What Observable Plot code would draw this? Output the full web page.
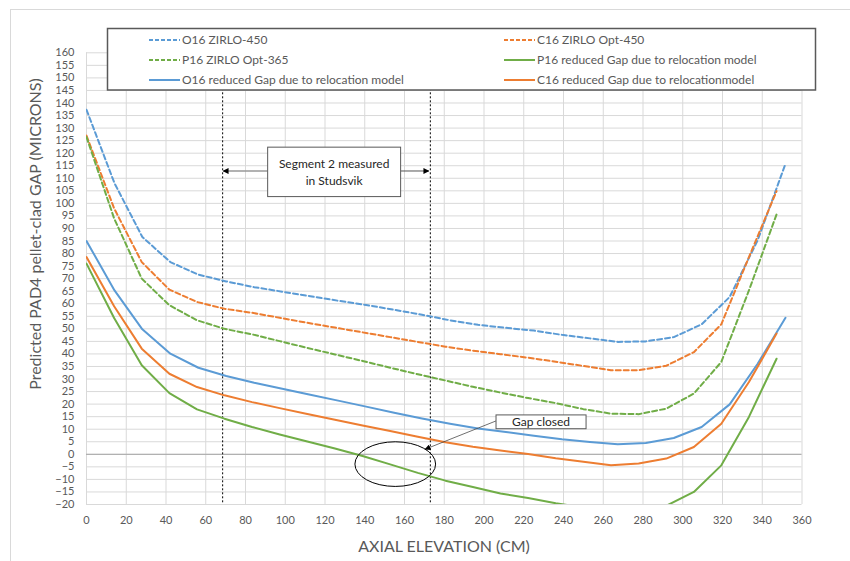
<!DOCTYPE html>
<html>
<head>
<meta charset="utf-8">
<script src="https://cdn.jsdelivr.net/npm/d3@7"></script>
<script src="https://cdn.jsdelivr.net/npm/@observablehq/plot@0.6"></script>
<style>
  html, body { margin: 0; padding: 0; background: #fff; }
  svg { display: block; }
</style>
</head>
<body>
<script>
// ---------- data ----------
const xTicks = [0, 20, 40, 60, 80, 100, 120, 140, 160, 180, 200, 220, 240, 260, 280, 300, 320, 340, 360];
const yTicks = [-20, -15, -10, -5, 0, 5, 10, 15, 20, 25, 30, 35, 40, 45, 50, 55, 60, 65, 70, 75, 80, 85, 90, 95, 100, 105, 110, 115, 120, 125, 130, 135, 140, 145, 150, 155, 160];

// axial positions (cm)
const o16Elev = [0, 14.1, 28.1, 42.2, 56.3, 70.3, 84.4, 98.5, 112.6, 126.6, 140.7, 154.8, 168.8, 182.9, 197.0, 211.0, 225.1, 239.2, 253.3, 267.3, 281.4, 295.5, 309.5, 323.6, 337.7, 351.7];
const cpElev  = [0, 13.9, 27.8, 41.7, 55.6, 69.4, 83.3, 97.2, 111.1, 125.0, 138.9, 152.8, 166.7, 180.6, 194.4, 208.3, 222.2, 236.1, 250.0, 263.9, 277.8, 291.7, 305.6, 319.4, 333.3, 347.2];

// gap values (microns)
const o16Zirlo450  = [137.3, 108, 86.6, 76.6, 71.6, 68.9, 66.6, 64.8, 63.0, 61.2, 59.5, 57.6, 55.6, 53.4, 51.6, 50.4, 49.3, 47.6, 46.2, 44.8, 45.0, 46.7, 51.8, 62.7, 85.3, 115.8];
const c16Opt450    = [127.0, 98, 76.6, 65.6, 60.7, 58.0, 56.4, 54.4, 52.4, 50.5, 48.6, 46.7, 44.8, 42.9, 41.3, 39.9, 38.5, 36.9, 35.2, 33.5, 33.5, 35.3, 40.7, 51.8, 78.6, 104.9];
const p16Opt365    = [126.4, 94, 70.0, 59.4, 53.4, 50.0, 47.8, 45.1, 42.4, 39.8, 37.2, 34.5, 31.9, 29.4, 26.9, 24.6, 22.4, 20.4, 18.0, 16.2, 16.0, 18.2, 24.2, 36.8, 65.3, 95.6];
const p16Reduced   = [76.0, 54.3, 35.5, 24.4, 17.9, 14.2, 10.9, 7.9, 5.1, 2.3, -0.7, -4.0, -7.4, -10.5, -13.0, -15.6, -17.4, -19.5, -21.2, -22.5, -22.0, -20.5, -15.0, -4.4, 14.9, 38.1];
const o16Reduced   = [85.0, 65.3, 49.8, 40.1, 34.5, 31.2, 28.5, 26.1, 23.7, 21.4, 19.0, 16.6, 14.3, 12.2, 10.3, 8.9, 7.4, 6.0, 4.9, 4.0, 4.5, 6.5, 10.9, 19.9, 36.1, 54.4];
const c16Reduced   = [78.6, 59.0, 42.1, 32.1, 26.8, 23.5, 20.8, 18.4, 16.1, 13.8, 11.5, 9.3, 7.0, 4.8, 3.0, 1.5, 0.1, -1.6, -3.0, -4.4, -3.7, -1.7, 2.9, 12.2, 28.8, 48.1];

const seriesNames = [
  "O16 ZIRLO-450",
  "C16 ZIRLO Opt-450",
  "P16 ZIRLO Opt-365",
  "P16 reduced Gap due to relocation model",
  "O16 reduced Gap due to relocation model",
  "C16 reduced Gap due to relocationmodel"
];
const seriesColors = ["#5B9BD5", "#ED7D31", "#70AD47", "#70AD47", "#5B9BD5", "#ED7D31"];
const seriesDashed = [true, true, true, false, false, false];
const seriesValues = [o16Zirlo450, c16Opt450, p16Opt365, p16Reduced, o16Reduced, c16Reduced];
const seriesElev   = [o16Elev, cpElev, cpElev, cpElev, o16Elev, cpElev];

// annotations (data units)
const segmentLines = [68.5, 173];
const segmentBox = {x1: 91.4, x2: 158.3, y1: 122.2, y2: 102.5, arrowY: 112.7, text: ["Segment 2 measured", "in Studsvik"]};
const gapBox = {x1: 206.3, x2: 251.6, y1: 15.5, y2: 10.0, text: "Gap closed", fromX: 206.3, fromY: 13.1, toX: 170.6, toY: 1.8};
const gapEllipse = {cx: 155.6, cy: -4.1, rx: 20.3, ry: 8.9};

// ---------- build rows ----------
const rows = [];
seriesNames.forEach((name, k) => {
  seriesValues[k].forEach((v, i) => rows.push({series: name, k, x: seriesElev[k][i], y: v}));
});

const lineMarks = seriesNames.map((name, k) =>
  Plot.line(rows.filter(d => d.k === k), {
    x: "x", y: "y",
    stroke: seriesColors[k],
    strokeWidth: 2,
    strokeDasharray: seriesDashed[k] ? "5,3" : null,
    clip: true
  })
);

const chart = Plot.plot({
  width: 850,
  height: 561,
  marginLeft: 86,
  marginRight: 48.5,
  marginTop: 52.3,
  marginBottom: 57,
  x: {domain: [0, 360]},
  y: {domain: [-20, 160]},
  style: {fontFamily: "Lato, 'Open Sans', sans-serif", fontSize: "11px", color: "#595959", background: "#fff"},
  marks: [
    Plot.gridX(xTicks, {stroke: "#d9d9d9", strokeOpacity: 1, strokeWidth: 1}),
    Plot.gridY(yTicks, {stroke: "#d9d9d9", strokeOpacity: 1, strokeWidth: 1}),
    Plot.ruleY([0], {stroke: "#a6a6a6", strokeWidth: 1}),
    Plot.axisX(xTicks, {tickSize: 0, tickPadding: 12, label: null, fill: "#595959", fontSize: 11}),
    Plot.axisY(yTicks, {tickSize: 0, tickPadding: 12, label: null, fill: "#595959", fontSize: 11}),
    Plot.ruleX(segmentLines, {stroke: "#000", strokeWidth: 1, strokeDasharray: "2,2"}),
    ...lineMarks
  ]
});

document.body.appendChild(chart);

const sx = chart.scale("x"), sy = chart.scale("y");
const X = v => sx.apply(v), Y = v => sy.apply(v);
const svg = d3.select(chart);
const font = "Lato, 'Open Sans', sans-serif";

// arrow marker
const defs = svg.append("defs");
defs.append("marker").attr("id", "tri").attr("viewBox", "0 0 10 10")
  .attr("refX", 9).attr("refY", 5).attr("markerWidth", 6).attr("markerHeight", 6)
  .attr("markerUnits", "userSpaceOnUse").attr("orient", "auto")
  .append("path").attr("d", "M0,0 L10,5 L0,10 z").attr("fill", "#000");

// Segment annotation
const sb = segmentBox;
svg.append("line").attr("x1", X(sb.x1)).attr("x2", X(segmentLines[0]) + 1)
  .attr("y1", Y(sb.arrowY)).attr("y2", Y(sb.arrowY))
  .attr("stroke", "#999").attr("stroke-width", 1.5).attr("marker-end", "url(#tri)");
svg.append("line").attr("x1", X(sb.x2)).attr("x2", X(segmentLines[1]) - 1)
  .attr("y1", Y(sb.arrowY)).attr("y2", Y(sb.arrowY))
  .attr("stroke", "#555").attr("stroke-width", 1).attr("marker-end", "url(#tri)");
svg.append("rect").attr("x", X(sb.x1)).attr("y", Y(sb.y1))
  .attr("width", X(sb.x2) - X(sb.x1)).attr("height", Y(sb.y2) - Y(sb.y1))
  .attr("fill", "#fff").attr("stroke", "#595959").attr("stroke-width", 1);
const sbcx = (X(sb.x1) + X(sb.x2)) / 2, sbcy = (Y(sb.y1) + Y(sb.y2)) / 2;
sb.text.forEach((t, i) => {
  svg.append("text").attr("x", sbcx).attr("y", sbcy + (i === 0 ? -8 : 9)).attr("dy", "0.35em")
    .attr("text-anchor", "middle").attr("font-family", font).attr("font-size", 12)
    .attr("fill", "#262626").text(t);
});

// Gap closed annotation
const gb = gapBox;
svg.append("line").attr("x1", X(gb.fromX)).attr("y1", Y(gb.fromY))
  .attr("x2", X(gb.toX)).attr("y2", Y(gb.toY))
  .attr("stroke", "#404040").attr("stroke-width", 0.75).attr("marker-end", "url(#tri)");
svg.append("rect").attr("x", X(gb.x1)).attr("y", Y(gb.y1))
  .attr("width", X(gb.x2) - X(gb.x1)).attr("height", Y(gb.y2) - Y(gb.y1))
  .attr("fill", "#fff").attr("stroke", "#595959").attr("stroke-width", 1);
svg.append("text").attr("x", (X(gb.x1) + X(gb.x2)) / 2).attr("y", (Y(gb.y1) + Y(gb.y2)) / 2)
  .attr("dy", "0.35em").attr("text-anchor", "middle").attr("font-family", font)
  .attr("font-size", 12).attr("fill", "#262626").text(gb.text);

// ellipse
const ge = gapEllipse;
svg.append("ellipse").attr("cx", X(ge.cx)).attr("cy", Y(ge.cy))
  .attr("rx", X(ge.cx + ge.rx) - X(ge.cx)).attr("ry", Y(ge.cy - ge.ry) - Y(ge.cy))
  .attr("fill", "none").attr("stroke", "#000").attr("stroke-width", 1);

// Legend box
const lg = svg.append("g").attr("text-anchor", "start");
lg.append("rect").attr("x", 107.5).attr("y", 28.5).attr("width", 708).attr("height", 61.5)
  .attr("fill", "#fff").attr("stroke", "#595959").attr("stroke-width", 1.5);
const legendOrder = [0, 1, 2, 3, 4, 5];
const colX = [149, 504];
const rowY = [40, 60, 80];
legendOrder.forEach((k, idx) => {
  const c = idx % 2, r = Math.floor(idx / 2);
  lg.append("line").attr("x1", colX[c]).attr("x2", colX[c] + 31)
    .attr("y1", rowY[r]).attr("y2", rowY[r])
    .attr("stroke", seriesColors[k]).attr("stroke-width", 2)
    .attr("stroke-dasharray", seriesDashed[k] ? "4,2" : null);
  lg.append("text").attr("x", colX[c] + 33).attr("y", rowY[r]).attr("dy", "0.35em")
    .attr("text-anchor", "start")
    .attr("font-family", font).attr("font-size", 12).attr("fill", "#595959")
    .text(seriesNames[k]);
});

// axis titles
svg.append("text").attr("x", 444).attr("y", 546).attr("dy", "0.35em")
  .attr("text-anchor", "middle").attr("font-family", font).attr("font-size", 16)
  .attr("fill", "#595959").text("AXIAL ELEVATION (CM)");
svg.append("text").attr("transform", "translate(35,234) rotate(-90)").attr("dy", "0.35em")
  .attr("text-anchor", "middle").attr("font-family", font).attr("font-size", 16)
  .attr("fill", "#595959").text("Predicted PAD4 pellet-clad GAP (MICRONS)");

// outer chart border
svg.append("rect").attr("x", 10.5).attr("y", 9.5).attr("width", 850).attr("height", 560)
  .attr("fill", "none").attr("stroke", "#d9d9d9").attr("stroke-width", 1);
</script>
</body>
</html>
